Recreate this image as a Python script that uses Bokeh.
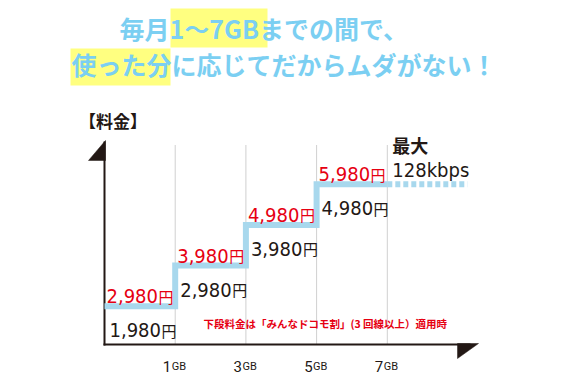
from bokeh.plotting import figure
from bokeh.models import Range1d
from bokeh.core.properties import value
from bokeh.embed import file_html
from bokeh.resources import INLINE

# ---------------- data ----------------
GB_TICKS = ["1", "3", "5", "7"]              # GB thresholds on the x axis
GB_UNIT = "GB"
PRICE_LOW = [1980, 2980, 3980, 4980]          # 下段料金（みんなドコモ割適用時）
PRICE_HIGH = [2980, 3980, 4980, 5980]         # 通常料金
CAP_TITLE = "最大"
CAP_SPEED = "128kbps"
YEN = "円"
TITLE1 = "毎月1〜7GBまでの間で、"
TITLE2 = "使った分に応じてだからムダがない！"
Y_LABEL = "【料金】"
NOTE = "下段料金は「みんなドコモ割」(3 回線以上）適用時"

# ---------------- layout helpers (page px -> data) ----------------
W, H = 564, 375
SX0, SXK = 104.0, 70.7            # slot 0 (origin) at page x 104, 70.7 px per slot
YC_V, YC_P, YK = 3980, 244.75, 0.04067


def dx(px):
    return (px - SX0) / SXK


def dy(py):
    return YC_V - (py - YC_P) / YK


INK = "#231815"
BLUE = "#a8d8ed"
RED = "#e60012"
TITLE_BLUE = "#7bcff2"
HILITE = "#ffff80"
NARROW = value("DejaVu Sans Condensed")
CJK = value("Noto Sans CJK JP")
TICKF = value("Roboto")
NUM_SIZE = "20px"
YEN_SIZE = "15px"
YEN_GAP = 52      # px from number start to 円

p = figure(width=W, height=H, x_range=Range1d(dx(0), dx(W)),
           y_range=Range1d(dy(H), dy(0)), output_backend="svg",
           toolbar_location=None, min_border=0, outline_line_color=None,
           x_axis_location=None, y_axis_location=None)
p.xgrid.visible = False
p.ygrid.visible = False
p.background_fill_color = "white"

n = len(PRICE_LOW)
slots = list(range(1, n + 1))                   # x positions of 1,3,5,7GB
starts = list(range(0, n))
levels = [(lo + hi) / 2 for lo, hi in zip(PRICE_LOW, PRICE_HIGH)]
AXIS_Y = dy(344)

# ---- title with highlights ----
p.quad(left=[dx(170), dx(70)], right=[dx(267), dx(170)],
       top=[dy(8), dy(48)], bottom=[dy(47), dy(85)],
       fill_color=HILITE, line_color=None)
p.text(x=[dx(119), dx(71)], y=[dy(27), dy(63)], text=[TITLE1, TITLE2],
       text_font=CJK, text_font_size="25px", text_font_style="bold",
       text_color=TITLE_BLUE, text_baseline="middle", text_align="left")

# ---- y label ----
p.text(x=[dx(78.5)], y=[dy(120)], text=[Y_LABEL], text_font=CJK,
       text_font_size="17px", text_font_style="bold", text_color=INK,
       text_baseline="middle")

# ---- dotted gridlines ----
p.segment(x0=slots, y0=[AXIS_Y] * n, x1=slots, y1=[dy(145)] * n,
          line_color="#a0a0a0", line_width=1, line_dash="1 1")

# ---- axes ----
p.segment(x0=[0], y0=[dy(345)], x1=[0], y1=[dy(141)], line_color=INK, line_width=2)
p.segment(x0=[dx(103)], y0=[AXIS_Y], x1=[dx(470)], y1=[AXIS_Y], line_color=INK, line_width=2)
p.patch([dx(88), dx(105), dx(105)], [dy(160), dy(140), dy(160)], fill_color=INK, line_color=INK, line_width=0.5)
p.patch([dx(457), dx(478), dx(457)], [dy(343), dy(343), dy(358)], fill_color=INK, line_color=INK, line_width=0.5)

# ---- step line ----
xs, ys = [], []
for s, lv in zip(starts, levels):
    xs += [s, s + 1]
    ys += [lv, lv]
p.line(xs, ys, line_color=BLUE, line_width=6, line_join="miter")
p.line([n, dx(467)], [levels[-1], levels[-1]], line_color=BLUE, line_width=6, line_dash="5 3")

# ---- price labels ----
high_txt = [f"{v:,}" for v in PRICE_HIGH]
low_txt = [f"{v:,}" for v in PRICE_LOW]
p.text(x=starts, y=levels, text=high_txt, x_offset=2, y_offset=-10,
       text_font=NARROW, text_font_size=NUM_SIZE, text_color=RED,
       text_baseline="alphabetic", text_align="left")
p.text(x=starts, y=levels, text=[YEN] * n, x_offset=2 + YEN_GAP, y_offset=-10,
       text_font=CJK, text_font_size=YEN_SIZE, text_color=RED,
       text_baseline="alphabetic", text_align="left")
p.text(x=starts, y=levels, text=low_txt, x_offset=5, y_offset=24,
       text_font=NARROW, text_font_size=NUM_SIZE, text_color=INK,
       text_baseline="alphabetic", text_align="left")
p.text(x=starts, y=levels, text=[YEN] * n, x_offset=5 + YEN_GAP, y_offset=24,
       text_font=CJK, text_font_size=YEN_SIZE, text_color=INK,
       text_baseline="alphabetic", text_align="left")

# ---- cap label ----
p.text(x=[n], y=[levels[-1]], text=[CAP_TITLE], x_offset=5, y_offset=-39,
       text_font=CJK, text_font_size="18px", text_font_style="bold",
       text_color=INK, text_baseline="middle")
p.text(x=[n], y=[levels[-1]], text=[CAP_SPEED], x_offset=5, y_offset=-14,
       text_font=NARROW, text_font_size="20px", text_color=INK,
       text_baseline="alphabetic")

# ---- x tick labels ----
p.text(x=slots, y=[AXIS_Y] * n, text=GB_TICKS, x_offset=-4, y_offset=22,
       text_font=TICKF, text_font_size="15px", text_color=INK,
       text_baseline="alphabetic", text_align="right")
p.text(x=slots, y=[AXIS_Y] * n, text=[GB_UNIT] * n, x_offset=-3.5, y_offset=22,
       text_font=TICKF, text_font_size="11px", text_color=INK,
       text_baseline="alphabetic", text_align="left")

# ---- note ----
p.text(x=[dx(203)], y=[dy(323)], text=[NOTE], text_font=CJK,
       text_font_size="10.5px", text_font_style="bold", text_color=RED,
       text_baseline="middle")

open("out.html", "w").write(file_html(p, INLINE))
